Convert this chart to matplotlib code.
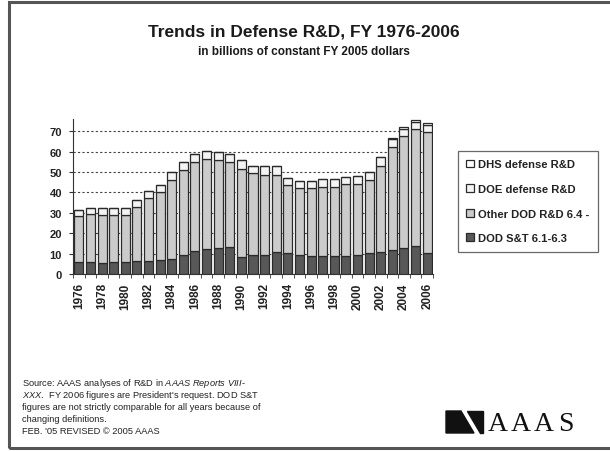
import numpy as np
import matplotlib
matplotlib.use("Agg")
from matplotlib import pyplot as plt
from matplotlib.patches import Rectangle, Polygon

plt.rcParams['font.family'] = ['Liberation Sans', 'DejaVu Sans']
plt.rcParams['mathtext.fontset'] = 'custom'
plt.rcParams['mathtext.it'] = 'Liberation Sans:italic'
plt.rcParams['mathtext.rm'] = 'Liberation Sans'

# fiscal years
years = list(range(1976, 2007))

# billions of constant FY 2005 dollars
dod_st = [5.9, 5.9, 5.5, 5.9, 5.9, 6.2, 6.5, 6.9, 7.2, 9.3, 11.3, 12.1, 12.7, 13.4, 8.2,
          9.5, 9.5, 10.8, 10.1, 9.5, 9.0, 8.8, 8.8, 8.6, 9.5, 10.1, 10.8, 11.7, 12.7, 13.7, 10.1]
other_top = [28.4, 29.5, 29.0, 29.0, 28.7, 33.0, 37.4, 40.3, 46.0, 50.9, 54.8, 56.4, 56.1, 54.8, 51.5,
             49.3, 48.6, 48.6, 43.4, 42.3, 42.1, 42.7, 42.7, 44.0, 44.0, 46.3, 53.2, 62.3, 67.5, 71.1, 69.8]
totals = [31.6, 32.3, 32.5, 32.5, 32.3, 36.5, 40.9, 43.6, 50.2, 55.1, 58.6, 60.2, 59.9, 58.9, 55.8,
          53.0, 53.0, 53.0, 47.1, 45.8, 45.7, 46.7, 46.5, 47.8, 48.0, 50.2, 57.3, 66.6, 72.1, 75.4, 74.1]
dhs = [0] * 27 + [0.6, 0.8, 0.9, 0.9]

other_dod = [o - s for o, s in zip(other_top, dod_st)]
doe = [t - o - h for t, o, h in zip(totals, other_top, dhs)]

series = ["DOD S&T 6.1-6.3", "Other DOD R&D 6.4 -", "DOE defense R&D", "DHS defense R&D"]
colors = ["#585858", "#cbcbcb", "#f4f4f4", "#ffffff"]

fig = plt.figure(figsize=(6.1, 4.52), dpi=100)

# outer frame of the slide
fig.patches.append(Rectangle((9 / 610, 3 / 452), 1.2, 446 / 452, transform=fig.transFigure,
                             fill=False, edgecolor="#555555", linewidth=2.2))

ax = fig.add_axes([73 / 610, 1 - 275 / 452, 360 / 610, 155 / 452])
x = np.arange(len(years))
bottom = np.zeros(len(years))
for name, vals, c in zip(series, [dod_st, other_dod, doe, dhs], colors):
    ax.bar(x, vals, bottom=bottom, width=0.78, color=c, edgecolor="#2a2a2a",
           linewidth=0.9, label=name, zorder=3)
    bottom += np.array(vals)

ax.set_xlim(-0.5, len(years) - 0.5)
ax.set_ylim(0, 76)
ax.set_yticks(range(0, 80, 10))
ax.yaxis.grid(True, linestyle=(0, (2, 2)), color="#444444", linewidth=0.8, zorder=0)
ax.set_axisbelow(True)
for s in ["top", "right"]:
    ax.spines[s].set_visible(False)
ax.spines["left"].set_color("#333333")
ax.spines["bottom"].set_color("#333333")

ax.set_xticks(x[::2])
ax.set_xticklabels([str(y) for y in years[::2]], rotation=90, fontsize=8.5, fontweight="bold",
                   color="#222222")
ax.set_xticks(np.arange(-0.5, len(years)), minor=True)
ax.tick_params(axis="x", which="major", length=0, pad=6)
ax.tick_params(axis="x", which="minor", length=3, color="#333333")
ax.tick_params(axis="y", length=3, color="#333333", labelsize=8, pad=5, labelcolor="#222222")
for lab in ax.get_yticklabels():
    lab.set_fontweight("bold")

handles, labels = ax.get_legend_handles_labels()
leg = fig.legend(handles[::-1], labels[::-1], loc="upper left",
                 bbox_to_anchor=(458 / 610, 1 - 152 / 452), frameon=True, fancybox=False,
                 prop={"size": 8.1, "weight": "bold"}, handlelength=0.7, handleheight=0.7,
                 handletextpad=0.3, labelspacing=1.3, borderpad=0.75, borderaxespad=0)
leg.get_frame().set_edgecolor("#444444")
leg.get_frame().set_linewidth(0.9)
for t in leg.get_texts():
    t.set_color("#222222")

fig.text(304 / 610, 1 - 32 / 452, "Trends in Defense R&D, FY 1976-2006",
         ha="center", va="center", fontsize=12.5, fontweight="bold", color="#1a1a1a")
fig.text(304 / 610, 1 - 52 / 452, "in billions of constant FY 2005 dollars",
         ha="center", va="center", fontsize=8.5, fontweight="bold", color="#1a1a1a")

# source note
notes = [
    "Source: AAAS analyses of R&D in $\\it{AAAS\\ Reports\\ VIII}$-",
    "$\\it{XXX}$.  FY 2006 figures are President's request. DOD S&T",
    "figures are not strictly comparable for all years because of",
    "changing definitions.",
    "FEB. '05 REVISED \u00a9 2005 AAAS",
]
note_y = [384, 396, 408, 420, 432]
for line, yy in zip(notes, note_y):
    fig.text(22 / 610, 1 - yy / 452, line, fontsize=6.7, va="center", color="#222222")

# AAAS logo
def fpt(px, py):
    return (px / 610, 1 - py / 452)

fig.patches.append(Polygon([fpt(446, 412), fpt(461, 412), fpt(474, 434), fpt(446, 434)],
                           closed=True, transform=fig.transFigure, color="#111111"))
fig.patches.append(Polygon([fpt(467, 412), fpt(483, 412), fpt(483, 434), fpt(480, 434)],
                           closed=True, transform=fig.transFigure, color="#111111"))
for letter, lx in zip("AAAS", [488, 511, 534, 558]):
    fig.text(lx / 610, 1 - 425 / 452, letter, family="Liberation Serif", fontsize=20,
             va="center", ha="left", color="#111111")

fig.savefig("out.png", dpi=100)
